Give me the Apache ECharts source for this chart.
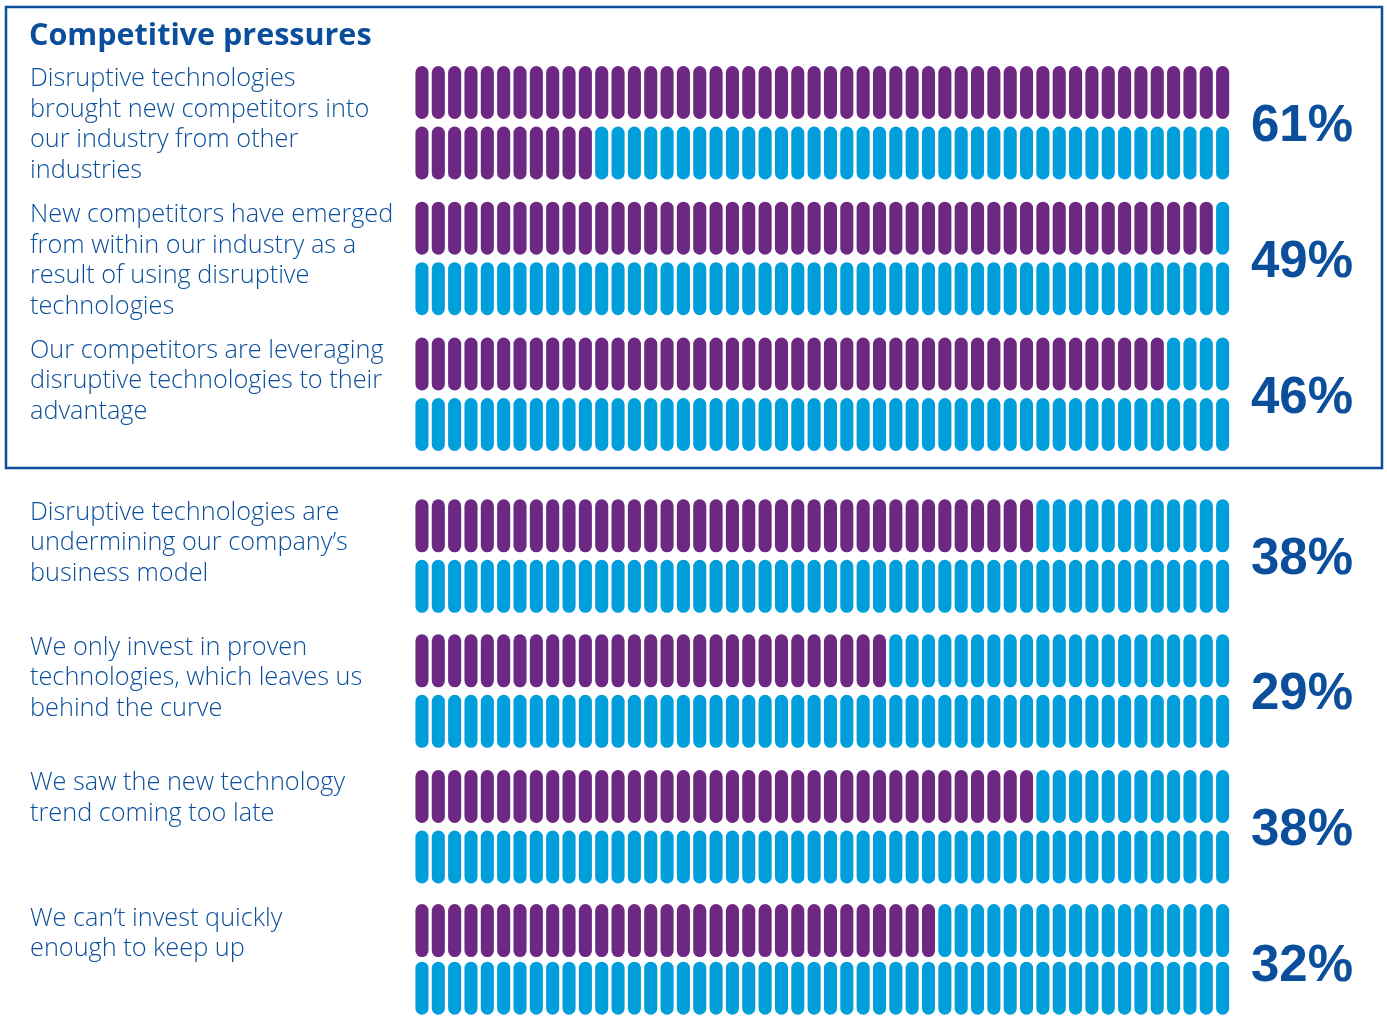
<!DOCTYPE html>
<html><head><meta charset="utf-8">
<script src="https://cdn.jsdelivr.net/npm/echarts@6/dist/echarts.min.js"></script>
<style>html,body{margin:0;padding:0;background:#fff}#c{width:1387px;height:1017px}</style>
</head><body><div id="c"></div>
<script>
// ---------- data ----------
const chartTitle = 'Competitive pressures';
const statements = [
  'Disruptive technologies\nbrought new competitors into\nour industry from other\nindustries',
  'New competitors have emerged\nfrom within our industry as a\nresult of using disruptive\ntechnologies',
  'Our competitors are leveraging\ndisruptive technologies to their\nadvantage',
  'Disruptive technologies are\nundermining our company\u2019s\nbusiness model',
  'We only invest in proven\ntechnologies, which leaves us\nbehind the curve',
  'We saw the new technology\ntrend coming too late',
  'We can\u2019t invest quickly\nenough to keep up'
];
const percentages = [61, 49, 46, 38, 29, 38, 32];
const pillColumns = ['1','2','3','4','5','6','7','8','9','10','11','12','13','14','15','16','17','18','19','20','21','22','23','24','25','26','27','28','29','30','31','32','33','34','35','36','37','38','39','40','41','42','43','44','45','46','47','48','49','50'];
const pillRows = ['upper', 'lower'];

// ---------- layout & style ----------
const PURPLE = '#6C2882';
const BLUE = '#009EDB';
const NAVY = '#0B4F9C';
const itemTops = [66, 201.7, 337.5, 499.3, 634.3, 770, 905.5];
const gridLeft = 413.8, gridWidth = 817, rowPitch = 60.5;

const chart = echarts.init(document.getElementById('c'), null, {renderer: 'canvas'});

const grids = [], xAxes = [], yAxes = [], series = [], graphics = [];
statements.forEach((s, i) => {
  grids.push({left: gridLeft, width: gridWidth, top: itemTops[i] - (rowPitch - 53) / 2, height: rowPitch * 2});
  xAxes.push({gridIndex: i, type: 'category', data: pillColumns, show: false, boundaryGap: true});
  yAxes.push({gridIndex: i, type: 'category', data: pillRows, inverse: true, show: false, boundaryGap: true});
  const cells = [];
  pillRows.forEach((r, ri) => {
    pillColumns.forEach((c, ci) => {
      cells.push([ci, ri, (ri * pillColumns.length + ci) < percentages[i] ? 1 : 0]);
    });
  });
  series.push({
    type: 'custom', xAxisIndex: i, yAxisIndex: i, data: cells, silent: true, animation: false,
    renderItem: function (params, api) {
      const p = api.coord([api.value(0), api.value(1)]);
      const bw = api.size([1, 0])[0];
      const w = bw * 0.8, h = 53;
      return {
        type: 'rect',
        shape: {x: p[0] - w / 2, y: p[1] - h / 2, width: w, height: h, r: w / 2},
        style: {fill: api.value(2) ? PURPLE : BLUE}
      };
    }
  });
  graphics.push({
    type: 'text', left: 30, top: itemTops[i] - 2, silent: true,
    style: {text: s, font: '300 25.3px "Open Sans", sans-serif', fill: NAVY, lineHeight: 30.5}
  });
  graphics.push({
    type: 'text', x: 1251, y: itemTops[i] + 61, silent: true,
    style: {text: percentages[i] + '%', font: 'bold 51px "Liberation Sans", Arial, sans-serif', fill: NAVY, verticalAlign: 'middle', textVerticalAlign: 'middle'}
  });
});

graphics.push({
  type: 'rect', silent: true,
  shape: {x: 6, y: 7, width: 1376, height: 461},
  style: {fill: 'none', stroke: NAVY, lineWidth: 2.5}
});
graphics.push({
  type: 'text', left: 29, top: 21, silent: true,
  style: {text: chartTitle, font: 'bold 30.5px "Open Sans", sans-serif', fill: NAVY}
});

chart.setOption({
  animation: false,
  backgroundColor: '#ffffff',
  grid: grids, xAxis: xAxes, yAxis: yAxes, series: series,
  graphic: graphics
});
</script></body></html>
